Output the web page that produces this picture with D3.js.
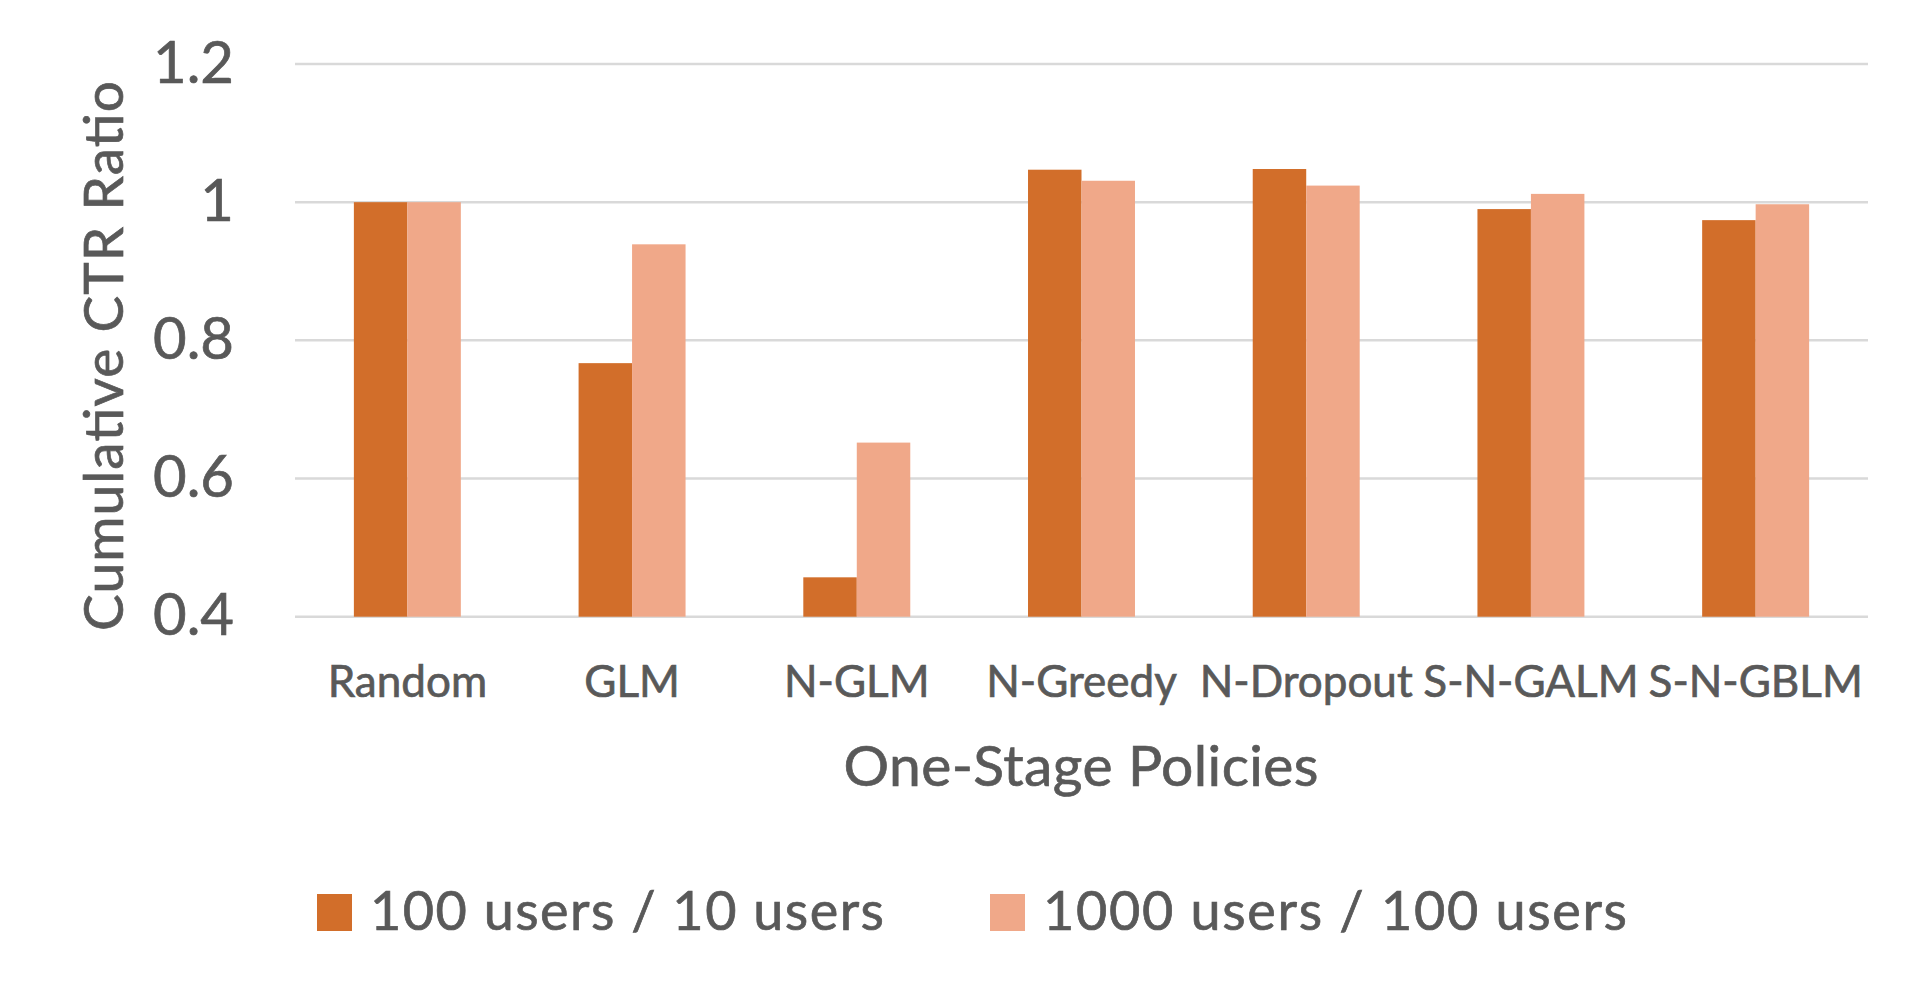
<!DOCTYPE html>
<html>
<head>
<meta charset="utf-8">
<script src="https://cdn.jsdelivr.net/npm/d3@7"></script>
<style>
  html, body { margin: 0; padding: 0; background: #ffffff; }
  svg { display: block; font-family: Lato, "Open Sans", sans-serif; }
  svg text { stroke: #595959; stroke-width: 0.7px; }
</style>
</head>
<body>
<svg id="chart" width="1925" height="999"></svg>
<script>
// ---- data ----
const categories = ["Random", "GLM", "N-GLM", "N-Greedy", "N-Dropout", "S-N-GALM", "S-N-GBLM"];
const seriesNames = ["100 users / 10 users", "1000 users / 100 users"];
const series100 = [1.0, 0.767, 0.457, 1.047, 1.048, 0.990, 0.974];
const series1000 = [1.0, 0.939, 0.652, 1.031, 1.024, 1.012, 0.997];
const yTicks = [0.4, 0.6, 0.8, 1.0, 1.2];
const yTickLabels = ["0.4", "0.6", "0.8", "1", "1.2"];
const yTitle = "Cumulative CTR Ratio";
const xTitle = "One-Stage Policies";

// ---- style ----
const colors = ["#D26E2A", "#F0A889"];
const textColor = "#595959";
const gridColor = "#D9D9D9";

const svg = d3.select("#chart");
const plot = { left: 295, right: 1868, top: 64, bottom: 616.7 };

const x0 = d3.scaleBand()
  .domain(categories)
  .range([plot.left, plot.right])
  .paddingInner(0.524)
  .paddingOuter(0.262);

const x1 = d3.scaleBand()
  .domain([0, 1])
  .range([0, x0.bandwidth()])
  .padding(0);

const y = d3.scaleLinear().domain([0.4, 1.2]).range([plot.bottom, plot.top]);

// gridlines
svg.append("g")
  .selectAll("line")
  .data(yTicks)
  .join("line")
  .attr("x1", plot.left)
  .attr("x2", plot.right)
  .attr("y1", d => y(d))
  .attr("y2", d => y(d))
  .attr("stroke", gridColor)
  .attr("stroke-width", 2.5);

// y axis labels via d3 axis
const yAxis = d3.axisLeft(y)
  .tickValues(yTicks)
  .tickFormat((d, i) => yTickLabels[i])
  .tickSize(0)
  .tickPadding(0);
const yg = svg.append("g").attr("transform", `translate(234,0)`).call(yAxis);
yg.select(".domain").remove();
yg.selectAll("text")
  .attr("fill", textColor)
  .attr("font-family", "Lato")
  .attr("font-size", 58)
  .attr("dy", null)
  .attr("y", 18);

// bars
const rows = categories.map((c, i) => ({ cat: c, values: [series100[i], series1000[i]] }));
const groups = svg.append("g")
  .selectAll("g")
  .data(rows)
  .join("g")
  .attr("transform", d => `translate(${x0(d.cat)},0)`);

groups.selectAll("rect")
  .data(d => d.values.map((v, k) => ({ k, v })))
  .join("rect")
  .attr("x", d => x1(d.k))
  .attr("width", x1.bandwidth())
  .attr("y", d => y(d.v))
  .attr("height", d => y(0.4) - y(d.v))
  .attr("fill", d => colors[d.k]);

// x axis labels
const xAxis = d3.axisBottom(x0).tickSize(0).tickPadding(0);
const xg = svg.append("g").attr("transform", `translate(0,${plot.bottom})`).call(xAxis);
xg.select(".domain").remove();
xg.selectAll("text")
  .attr("fill", textColor)
  .attr("font-family", "Lato")
  .attr("font-size", 44)
  .attr("dy", null)
  .attr("y", 80);

// axis titles
svg.append("text")
  .attr("x", 1081)
  .attr("y", 786)
  .attr("text-anchor", "middle")
  .attr("fill", textColor)
  .attr("font-size", 57)
  .attr("textLength", 475)
  .attr("lengthAdjust", "spacing")
  .text(xTitle);

svg.append("text")
  .attr("transform", "translate(123,356) rotate(-90)")
  .attr("text-anchor", "middle")
  .attr("fill", textColor)
  .attr("font-size", 55)
  .attr("textLength", 550)
  .attr("lengthAdjust", "spacing")
  .text(yTitle);

// legend
const legendX = [317, 990];
const legendTextLen = [514, 584];
const legend = svg.append("g")
  .selectAll("g")
  .data(seriesNames)
  .join("g")
  .attr("transform", (d, i) => `translate(${legendX[i]},894)`);
legend.append("rect")
  .attr("width", 35)
  .attr("height", 37)
  .attr("fill", (d, i) => colors[i])
  .attr("stroke", "none");
legend.append("text")
  .attr("x", 53)
  .attr("y", 36)
  .attr("fill", textColor)
  .attr("font-size", 54)
  .attr("textLength", (d, i) => legendTextLen[i])
  .attr("lengthAdjust", "spacing")
  .text(d => d);
</script>
</body>
</html>
